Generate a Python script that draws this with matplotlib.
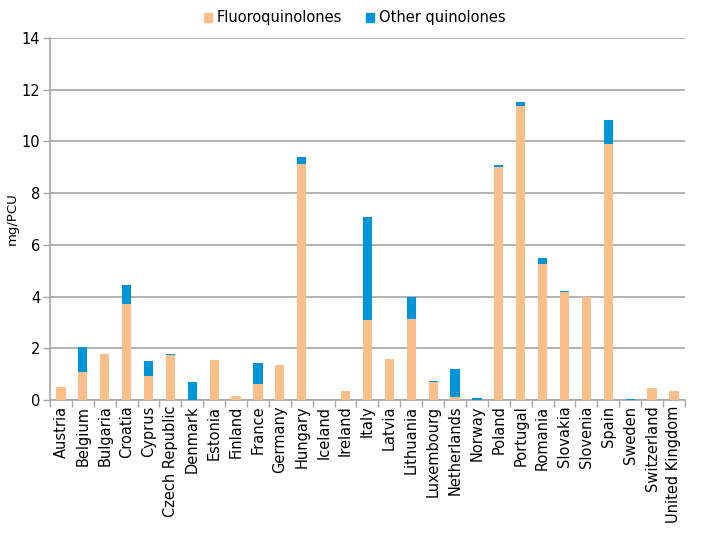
import numpy as np
import matplotlib.pyplot as plt
from matplotlib.patches import Patch

countries = ["Austria", "Belgium", "Bulgaria", "Croatia", "Cyprus", "Czech Republic",
             "Denmark", "Estonia", "Finland", "France", "Germany", "Hungary", "Iceland",
             "Ireland", "Italy", "Latvia", "Lithuania", "Luxembourg", "Netherlands",
             "Norway", "Poland", "Portugal", "Romania", "Slovakia", "Slovenia", "Spain",
             "Sweden", "Switzerland", "United Kingdom"]
fluoro = [0.50, 1.09, 1.78, 3.71, 0.93, 1.74,
          0.0, 1.55, 0.17, 0.63, 1.35, 9.12, 0.0,
          0.35, 3.08, 1.57, 3.13, 0.70, 0.12,
          0.01, 9.02, 11.36, 5.25, 4.19, 3.98, 9.90,
          0.01, 0.45, 0.35]
other = [0.0, 0.95, 0.0, 0.73, 0.59, 0.04,
         0.70, 0.0, 0.0, 0.79, 0.0, 0.27, 0.0,
         0.0, 3.98, 0.03, 0.87, 0.05, 1.07,
         0.07, 0.06, 0.18, 0.24, 0.02, 0.0, 0.94,
         0.02, 0.02, 0.0]

orange = "#fcbf8a"
blue = "#0095d9"
grid = "#a6a6a6"

fig = plt.figure(figsize=(7.09, 5.41), dpi=100)
ax = fig.add_axes([0.0705, 0.2606, 0.8955, 0.6692])

x = np.arange(len(countries))
ax.bar(x, fluoro, width=0.42, color=orange, zorder=3)
ax.bar(x, other, width=0.42, bottom=fluoro, color=blue, zorder=3)

ax.set_ylim(0, 14)
ax.set_xlim(-0.5, len(countries) - 0.5)
ax.set_yticks(np.arange(0, 15, 2))
ax.yaxis.grid(True, color=grid, linewidth=1.2, zorder=0)
ax.set_ylabel("mg/PCU", fontsize=9.5, labelpad=2)

ax.set_xticks(x)
ax.set_xticklabels(countries, rotation=90, fontsize=10.5)
ax.set_xticks(np.arange(-0.5, len(countries), 1), minor=True)
ax.tick_params(axis="x", which="major", length=0, pad=4)
ax.tick_params(axis="x", which="minor", length=5, color=grid, width=1)
ax.tick_params(axis="y", length=5, color=grid, width=1, labelsize=10.5, pad=2)

for s in ["top", "right"]:
    ax.spines[s].set_visible(False)
for s in ["left", "bottom"]:
    ax.spines[s].set_color(grid)
    ax.spines[s].set_linewidth(1.2)

handles = [Patch(color=orange, label="Fluoroquinolones"),
           Patch(color=blue, label="Other quinolones")]
fig.legend(handles=handles, loc="upper center", bbox_to_anchor=(0.5, 1.005), ncol=2,
           frameon=False, fontsize=10.5, handlelength=0.6, handleheight=0.6,
           handletextpad=0.3, columnspacing=1.6)

fig.savefig("out.png", dpi=100)
